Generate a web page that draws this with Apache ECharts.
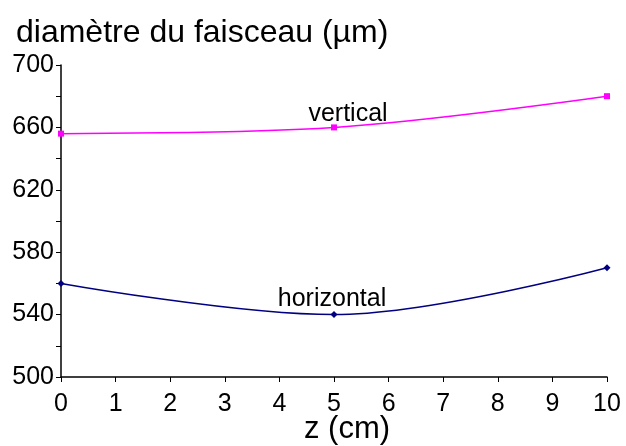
<!DOCTYPE html>
<html>
<head>
<meta charset="utf-8">
<script src="https://cdn.jsdelivr.net/npm/echarts@6/dist/echarts.min.js"></script>
<style>
  html, body { margin: 0; padding: 0; background: #fff; }
  #chart { width: 626px; height: 446px; }
</style>
</head>
<body>
<div id="chart"></div>
<script>
// Beam diameter along z, measured at three positions
const zPositions = [0, 5, 10];
const verticalDiameter = [656, 660, 680];
const horizontalDiameter = [560, 540, 570];
const seriesNames = ['vertical', 'horizontal'];
const titleText = 'diamètre du faisceau (µm)';
const xAxisName = 'z (cm)';

const font = 'Liberation Sans, Arial, sans-serif';

function pairs(xs, ys) {
  return xs.map((x, i) => [x, ys[i]]);
}

// Only the middle point carries the series name as a label
function withMiddleLabel(data, offset) {
  return data.map((p, i) => i === 1 ? {
    value: p,
    label: {
      show: true, position: 'top', offset: offset,
      formatter: '{a}', color: '#000', fontSize: 25, fontFamily: font
    }
  } : p);
}

const chart = echarts.init(document.getElementById('chart'), null, { renderer: 'canvas' });
chart.setOption({
  animation: false,
  backgroundColor: '#fff',
  title: {
    text: titleText, left: 11, top: 12,
    textStyle: { fontSize: 32, fontWeight: 'normal', color: '#000', fontFamily: font }
  },
  grid: { left: 61, right: 19, top: 65, bottom: 69, outerBoundsMode: 'none', containLabel: false },
  xAxis: {
    type: 'value', min: 0, max: 10, interval: 1,
    name: xAxisName, nameLocation: 'middle', nameGap: 37, nameMoveOverlap: false,
    nameTextStyle: { fontSize: 31, color: '#000', fontFamily: font, padding: [0, 0, 0, 26] },
    axisLine: { lineStyle: { color: '#000', width: 1.5 } },
    axisTick: { show: true, length: 5, lineStyle: { color: '#000' } },
    axisLabel: { fontSize: 25, color: '#000', fontFamily: font, margin: 15 },
    splitLine: { show: false }
  },
  yAxis: {
    type: 'value', min: 500, max: 700, interval: 40,
    axisLine: { show: true, lineStyle: { color: '#000', width: 1.5 } },
    axisTick: { show: true, length: 5, lineStyle: { color: '#000' } },
    minorTick: { show: true, splitNumber: 2, length: 5, lineStyle: { color: '#000' } },
    axisLabel: { fontSize: 25, color: '#000', fontFamily: font, margin: 7, padding: [6, 0, 0, 0] },
    splitLine: { show: false }
  },
  series: [
    {
      name: seriesNames[0], type: 'line', smooth: 0.35,
      data: withMiddleLabel(pairs(zPositions, verticalDiameter), [14, 7]),
      symbol: 'rect', symbolSize: 6,
      itemStyle: { color: '#ff00ff' },
      lineStyle: { color: '#ff00ff', width: 1.5 }
    },
    {
      name: seriesNames[1], type: 'line', smooth: 0.35,
      data: withMiddleLabel(pairs(zPositions, horizontalDiameter), [-2, 6]),
      symbol: 'diamond', symbolSize: 7,
      itemStyle: { color: '#000080' },
      lineStyle: { color: '#000080', width: 1.5 }
    }
  ]
});
</script>
</body>
</html>
